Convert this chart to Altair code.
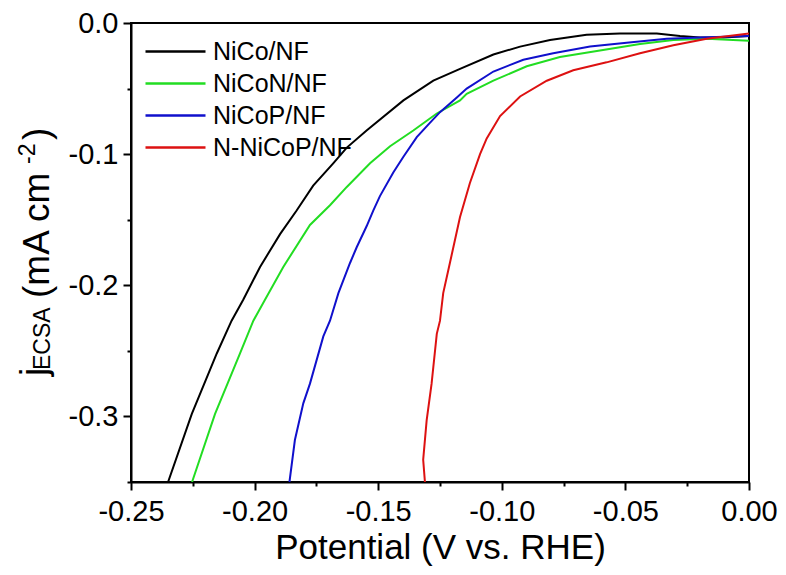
import altair as alt
import pandas as pd

series_names = ["NiCo/NF", "NiCoN/NF", "NiCoP/NF", "N-NiCoP/NF"]
series_colors = ["#000000", "#22dd22", "#1010cc", "#dd1111"]

nico_v = [-0.2350, -0.2254, -0.2153, -0.2093, -0.2046, -0.1978, -0.1897, -0.1830, -0.1763,
          -0.1682, -0.1627, -0.1547, -0.1398, -0.1277, -0.1169, -0.1034, -0.0926, -0.0805,
          -0.0657, -0.0522, -0.0373, -0.0279, -0.0198, -0.0104, 0.0]
nico_j = [-0.350, -0.298, -0.252, -0.227, -0.211, -0.186, -0.161, -0.143, -0.124,
          -0.107, -0.095, -0.082, -0.059, -0.044, -0.035, -0.024, -0.018, -0.013,
          -0.009, -0.008, -0.008, -0.010, -0.011, -0.011, -0.010]

niconn_v = [-0.2253, -0.2160, -0.2059, -0.2005, -0.1958, -0.1884, -0.1776, -0.1695, -0.1627,
            -0.1533, -0.1452, -0.1358, -0.1263, -0.1169, -0.1142, -0.1034, -0.0899, -0.0765,
            -0.0603, -0.0441, -0.0306, -0.0171, 0.0]
niconn_j = [-0.350, -0.298, -0.252, -0.227, -0.211, -0.186, -0.154, -0.139, -0.125,
            -0.107, -0.094, -0.082, -0.069, -0.059, -0.054, -0.044, -0.033, -0.026,
            -0.021, -0.016, -0.013, -0.012, -0.0135]

nicop_v = [-0.1859, -0.1837, -0.1803, -0.1776, -0.1722, -0.1695, -0.1661, -0.1614, -0.1587,
           -0.1547, -0.1520, -0.1493, -0.1439, -0.1398, -0.1344, -0.1290, -0.1250, -0.1183,
           -0.1142, -0.1034, -0.0913, -0.0792, -0.0643, -0.0495, -0.0333, -0.0198, 0.0]
nicop_j = [-0.350, -0.318, -0.290, -0.275, -0.239, -0.227, -0.206, -0.183, -0.171,
           -0.155, -0.143, -0.132, -0.114, -0.102, -0.087, -0.076, -0.068, -0.057,
           -0.050, -0.037, -0.028, -0.023, -0.018, -0.015, -0.012, -0.011, -0.010]

nnicop_v = [-0.1311, -0.1318, -0.1304, -0.1284, -0.1263, -0.1250, -0.1237, -0.1210, -0.1169,
            -0.1129, -0.1088, -0.1061, -0.1007, -0.0926, -0.0818, -0.0711, -0.0576, -0.0441,
            -0.0306, -0.0171, 0.0]
nnicop_j = [-0.350, -0.333, -0.303, -0.275, -0.237, -0.227, -0.206, -0.183, -0.148,
            -0.122, -0.100, -0.088, -0.071, -0.056, -0.044, -0.036, -0.030, -0.023,
            -0.017, -0.012, -0.008]

x_ticks = [-0.25, -0.225, -0.2, -0.175, -0.15, -0.125, -0.1, -0.075, -0.05, -0.025, 0.0]
y_ticks = [-0.35, -0.3, -0.25, -0.2, -0.15, -0.1, -0.05, 0.0]

FONT = "Liberation Sans"

rows = []
for name, vs, js in zip(series_names,
                        [nico_v, niconn_v, nicop_v, nnicop_v],
                        [nico_j, niconn_j, nicop_j, nnicop_j]):
    for i, (v, j) in enumerate(zip(vs, js)):
        rows.append({"series": name, "V": v, "j": j, "idx": i})
df = pd.DataFrame(rows)

x_major = "abs(round(datum.value*1000)) % 50 == 0"
y_major = "abs(round(datum.value*100)) % 10 == 0"

lines = alt.Chart(df).mark_line(strokeWidth=2, clip=True).encode(
    x=alt.X("V:Q",
            scale=alt.Scale(domain=[-0.25, 0.0], nice=False, zero=False),
            axis=alt.Axis(values=x_ticks, title="Potential (V vs. RHE)",
                          labelExpr=f"{x_major} ? (datum.value < 0 ? '-' : '') + format(abs(datum.value), '.2f') : ''",
                          tickSize={"condition": {"test": x_major, "value": 8}, "value": 4},
                          labelFontSize=29, titleFontSize=35, labelPadding=7, titlePadding=4,
                          labelFlush=False, labelOverlap=False, grid=False)),
    y=alt.Y("j:Q",
            scale=alt.Scale(domain=[-0.35, 0.0], nice=False, zero=False),
            axis=alt.Axis(values=y_ticks, title=None,
                          labelExpr=f"{y_major} ? (datum.value < 0 ? '-' : '') + format(abs(datum.value), '.1f') : ''",
                          tickSize={"condition": {"test": y_major, "value": 8}, "value": 4},
                          labelFontSize=29, labelPadding=5,
                          labelFlush=False, labelOverlap=False, grid=False)),
    color=alt.Color("series:N",
                    scale=alt.Scale(domain=series_names, range=series_colors),
                    legend=alt.Legend(title=None, orient="none", legendX=28, legendY=12,
                                      symbolType="M-2,0L2,0", symbolSize=900,
                                      symbolStrokeWidth=2.5, labelFontSize=25,
                                      labelFont=FONT, labelColor="black", labelOffset=21,
                                      rowPadding=2, padding=0)),
    order=alt.Order("idx:Q"),
)

# y-axis title built from pieces (subscript / superscript)
title_pieces = ["j", "ECSA", "(mA cm", "-2", ")"]
piece_sizes = [37, 23, 37, 23, 37]
piece_x = [-85, -81, -82, -96, -82]
piece_y = [353, 347, 275, 141, 117]

one = pd.DataFrame({"a": [0]})
texts = []
for t, s, px, py in zip(title_pieces, piece_sizes, piece_x, piece_y):
    texts.append(
        alt.Chart(one).mark_text(angle=270, align="left", baseline="alphabetic",
                                 font=FONT, fontSize=s, color="black").encode(
            x=alt.value(px), y=alt.value(py), text=alt.value(t))
    )

chart = alt.layer(lines, *texts).properties(
    width=618, height=459,
    autosize=alt.AutoSizeParams(type="none"),
    padding={"left": 123, "top": 15, "right": 29, "bottom": 85},
).configure_view(
    stroke="black", strokeWidth=2
).configure_axis(
    labelFont=FONT, titleFont=FONT, labelColor="black", titleColor="black",
    domainColor="black", domainWidth=2, tickColor="black", tickWidth=2,
    titleFontWeight="normal",
)

chart.save("out.html", embed_options={"renderer": "svg", "actions": False})
